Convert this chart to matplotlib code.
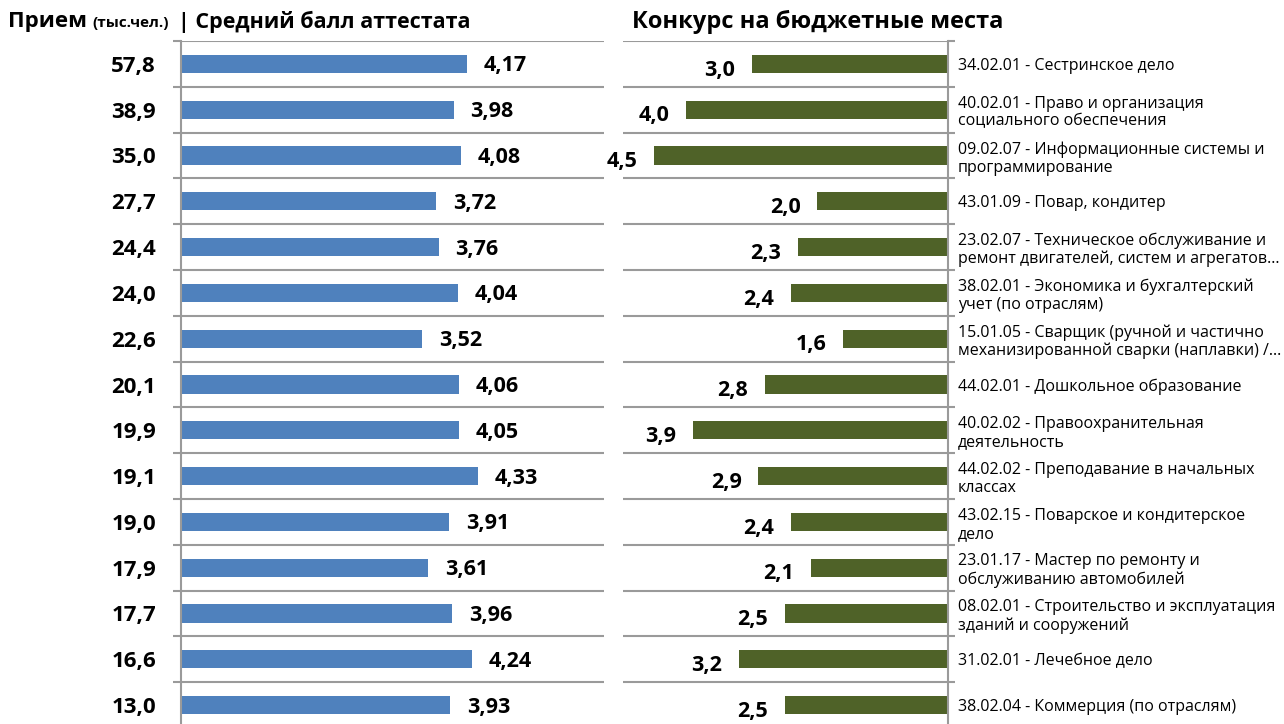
import matplotlib

matplotlib.use("Agg")
import matplotlib.pyplot as plt
import numpy as np

# --- Data ---
admitted = [57.8, 38.9, 35.0, 27.7, 24.4, 24.0, 22.6, 20.1, 19.9, 19.1, 19.0, 17.9, 17.7, 16.6, 13.0]
avg_grade = [4.17, 3.98, 4.08, 3.72, 3.76, 4.04, 3.52, 4.06, 4.05, 4.33, 3.91, 3.61, 3.96, 4.24, 3.93]
competition = [3.0, 4.0, 4.5, 2.0, 2.3, 2.4, 1.6, 2.8, 3.9, 2.9, 2.4, 2.1, 2.5, 3.2, 2.5]
specialties = [
    "34.02.01 - Сестринское дело",
    "40.02.01 - Право и организация\nсоциального обеспечения",
    "09.02.07 - Информационные системы и\nпрограммирование",
    "43.01.09 - Повар, кондитер",
    "23.02.07 - Техническое обслуживание и\nремонт двигателей, систем и агрегатов…",
    "38.02.01 - Экономика и бухгалтерский\nучет (по отраслям)",
    "15.01.05 - Сварщик (ручной и частично\nмеханизированной сварки (наплавки) /…",
    "44.02.01 - Дошкольное образование",
    "40.02.02 - Правоохранительная\nдеятельность",
    "44.02.02 - Преподавание в начальных\nклассах",
    "43.02.15 - Поварское и кондитерское\nдело",
    "23.01.17 - Мастер по ремонту и\nобслуживанию автомобилей",
    "08.02.01 - Строительство и эксплуатация\nзданий и сооружений",
    "31.02.01 - Лечебное дело",
    "38.02.04 - Коммерция (по отраслям)",
]

BLUE = "#4F81BD"
GREEN = "#4F6228"
GRID = "#9a9a9a"

plt.rcParams["font.family"] = ["Open Sans", "DejaVu Sans"]


def fmt(v, nd):
    return f"{v:.{nd}f}".replace(".", ",")


n = len(admitted)
y = np.arange(n)

W, H = 1284, 724
fig = plt.figure(figsize=(W / 100, H / 100), dpi=100)

row_h = 45.8
top_px = 41
ax_h = n * row_h / H
ax_bottom = 1 - top_px / H - ax_h

axL = fig.add_axes([181 / W, ax_bottom, (604 - 181) / W, ax_h])
axR = fig.add_axes([623 / W, ax_bottom, (948 - 623) / W, ax_h])

for ax in (axL, axR):
    ax.set_ylim(n - 0.5, -0.5)
    ax.set_yticks(y)
    ax.set_yticks(np.arange(n + 1) - 0.5, minor=True)
    ax.grid(True, axis="y", which="minor", color=GRID, linewidth=1.5)
    ax.set_axisbelow(True)
    ax.set_xticks([])
    for s in ("top", "bottom", "left", "right"):
        ax.spines[s].set_visible(False)
    ax.tick_params(axis="y", which="major", length=0)
    ax.tick_params(axis="y", which="minor", length=6, width=1.5, color=GRID)

# Left panel: average grade
axL.barh(y, avg_grade, height=0.4, color=BLUE)
axL.set_xlim(0, 6.17)
axL.spines["left"].set_visible(True)
axL.spines["left"].set_color(GRID)
axL.spines["left"].set_linewidth(1.5)
axL.set_yticklabels([fmt(v, 1) for v in admitted], fontsize=16, fontweight="bold")
axL.tick_params(axis="y", which="major", pad=18)
for yi, v in zip(y, avg_grade):
    axL.annotate(fmt(v, 2), xy=(v, yi), xytext=(12, -1.5), textcoords="offset points",
                 va="center", ha="left", fontsize=15.5, fontweight="bold")

# Right panel: competition
axR.barh(y, competition, height=0.4, color=GREEN)
axR.set_xlim(4.97, 0)
axR.spines["right"].set_visible(True)
axR.spines["right"].set_color(GRID)
axR.spines["right"].set_linewidth(1.5)
axR.yaxis.tick_right()
axR.yaxis.set_ticks_position("right")
axR.tick_params(axis="y", which="minor", length=5)
axR.set_yticklabels(specialties, fontsize=11.5, linespacing=1.15, ha="left")
axR.tick_params(axis="y", which="major", pad=7)
for yi, v in zip(y, competition):
    axR.annotate(fmt(v, 1), xy=(v, yi), xytext=(-12, -4.5), textcoords="offset points",
                 va="center", ha="right", fontsize=15.5, fontweight="bold")

# Titles
fig.text(8 / W, 1 - 22 / H, "Прием", fontsize=16, fontweight="bold", va="center", ha="left")
fig.text(92 / W, 1 - 23 / H, "(тыс.чел.)", fontsize=11, fontweight="bold", va="center", ha="left")
fig.text(178 / W, 1 - 22 / H, "| Средний балл аттестата", fontsize=15.5, fontweight="bold",
         va="center", ha="left")
fig.text(632 / W, 1 - 22 / H, "Конкурс на бюджетные места", fontsize=17, fontweight="bold",
         va="center", ha="left")

fig.savefig("out.png", dpi=100)
